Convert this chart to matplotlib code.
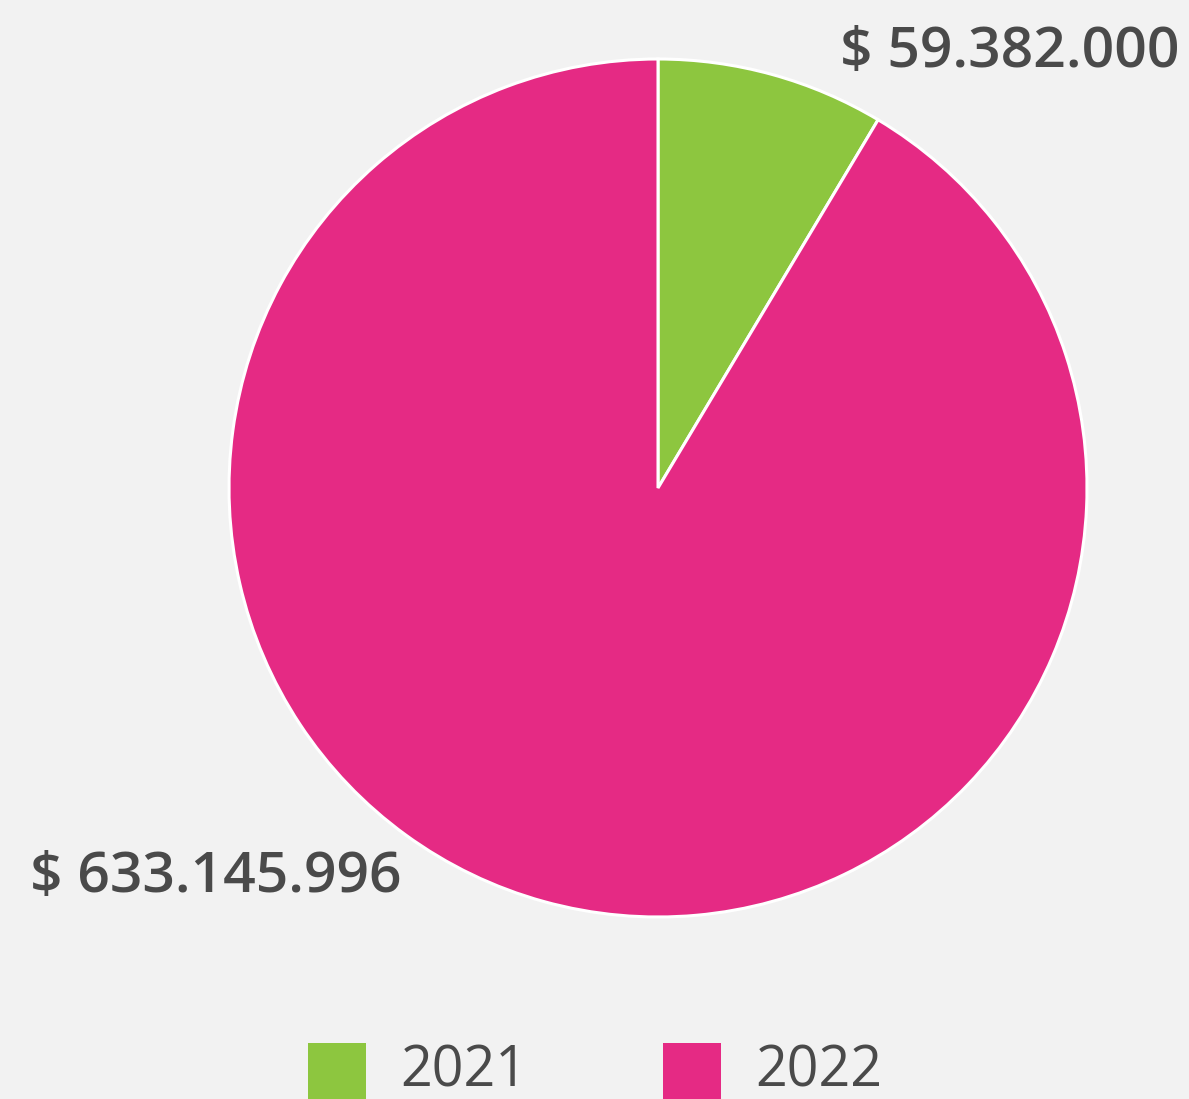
import matplotlib
matplotlib.use("Agg")
import matplotlib.pyplot as plt
from matplotlib.patches import Rectangle

categories = ["2021", "2022"]
values = [59382000, 633145996]
value_labels = ["$ 59.382.000", "$ 633.145.996"]
colors = ["#8dc63f", "#e52a84"]

W, H = 1189, 1099
fig = plt.figure(figsize=(W / 100, H / 100), dpi=100, facecolor="#f2f2f2")
ax = fig.add_axes([0, 0, 1, 1])
ax.set_facecolor("#f2f2f2")

cx, cy, r = 658, H - 488, 429
ax.pie(values, colors=colors, startangle=90, counterclock=False,
       center=(cx, cy), radius=r, frame=True,
       wedgeprops=dict(edgecolor="white", linewidth=2.2))
ax.set_xlim(0, W)
ax.set_ylim(0, H)
ax.set_aspect("auto")
ax.axis("off")

font = ["Open Sans", "DejaVu Sans"]
txt_color = "#4a4a4a"
ax.text(1180, H - 53, value_labels[0], ha="right", va="center",
        fontsize=41, color=txt_color, family=font, fontweight="semibold")
ax.text(30, H - 878, value_labels[1], ha="left", va="center",
        fontsize=41, color=txt_color, family=font, fontweight="semibold")

# legend
leg_x = [308, 663]
for i, cat in enumerate(categories):
    ax.add_patch(Rectangle((leg_x[i], H - 1110), 58, 1110 - 1043,
                           facecolor=colors[i], edgecolor="none", clip_on=True))
    ax.text(leg_x[i] + 92, H - 1072, cat, ha="left", va="center",
            fontsize=40, color=txt_color, family=font, fontweight="medium")

fig.savefig("out.png", dpi=100, facecolor="#f2f2f2")
